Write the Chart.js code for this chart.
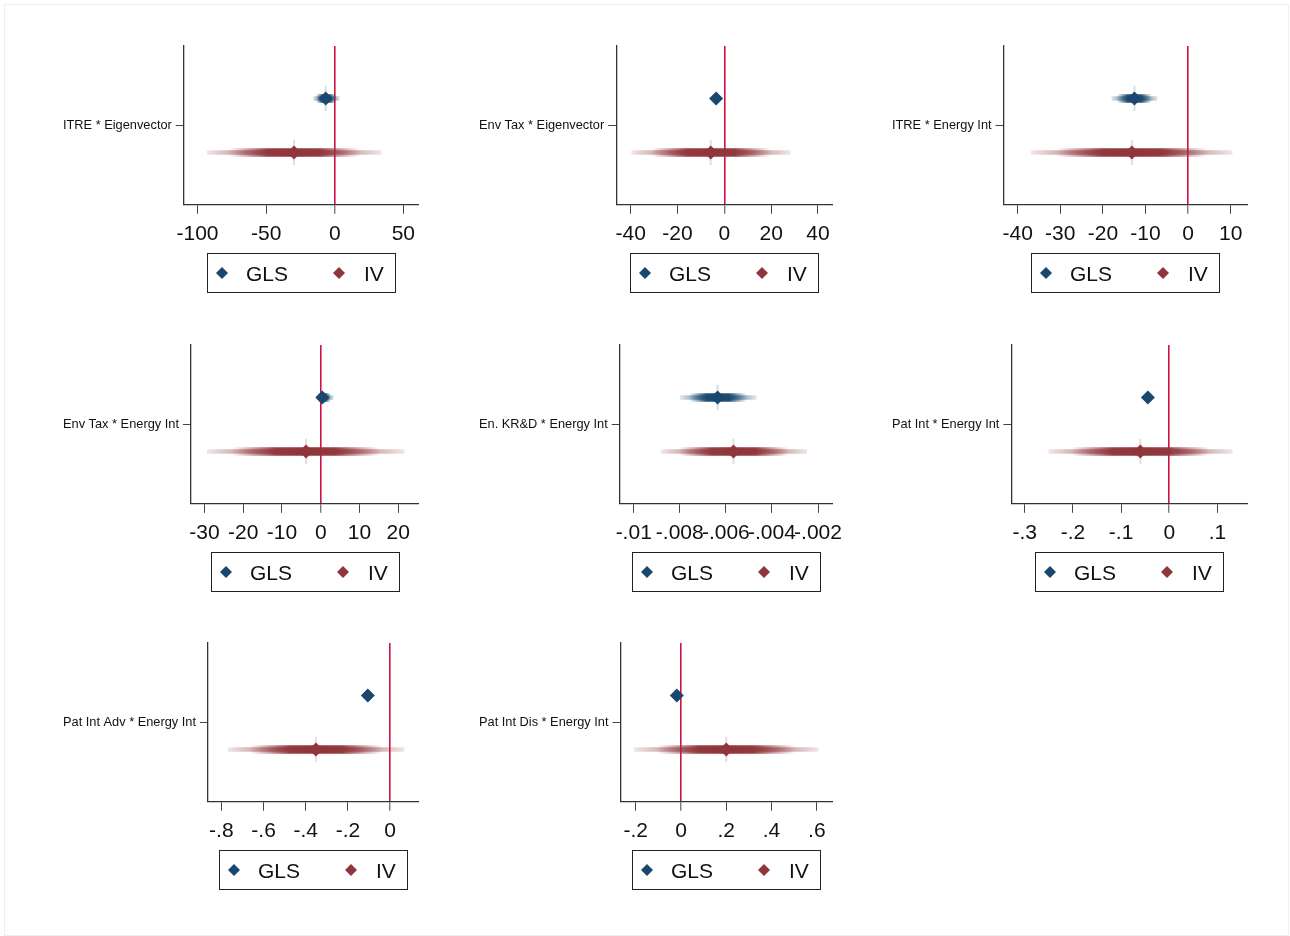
<!DOCTYPE html>
<html>
<head>
<meta charset="utf-8">
<script src="https://cdn.jsdelivr.net/npm/chart.js@4.4.1/dist/chart.umd.min.js"></script>
<style>
  body { margin: 0; background: #fff; }
  #page { position: relative; width: 1290px; height: 936px; background: #fff; overflow: hidden; }
  #frame { position: absolute; left: 4px; top: 4px; width: 1283px; height: 930px; border: 1px solid #efefef; }
  #page canvas { position: absolute; }
</style>
</head>
<body>
<div id="page"><div id="frame"></div></div>
<script>
// coefficient estimates (one entry per panel)
const panelLabels = ['ITRE * Eigenvector', 'Env Tax * Eigenvector', 'ITRE * Energy Int',
  'Env Tax * Energy Int', 'En. KR&D * Energy Int', 'Pat Int * Energy Int',
  'Pat Int Adv * Energy Int', 'Pat Int Dis * Energy Int'];
const seriesNames = ['GLS', 'IV'];

const glsCoef = [-6.6, -3.5, -12.6, 0.4, -0.00636, -0.0443, -0.106, -0.0183];
const glsLow  = [-15.8, -4.6, -18.0, -1.0, -0.00799, -0.049, -0.115, -0.026];
const glsHigh = [3.6, -2.4, -7.2, 3.3, -0.00467, -0.040, -0.097, -0.011];

const ivCoef = [-29.7, -5.8, -13.2, -3.8, -0.00567, -0.060, -0.352, 0.200];
const ivLow  = [-93.2, -39.7, -36.9, -29.4, -0.00882, -0.251, -0.770, -0.207];
const ivHigh = [34.1, 28.3, 10.4, 21.6, -0.00248, 0.1316, 0.068, 0.607];

const xTicks = [
  [-100, -50, 0, 50], [-40, -20, 0, 20, 40], [-40, -30, -20, -10, 0, 10],
  [-30, -20, -10, 0, 10, 20], [-0.01, -0.008, -0.006, -0.004, -0.002],
  [-0.3, -0.2, -0.1, 0, 0.1], [-0.8, -0.6, -0.4, -0.2, 0], [-0.2, 0, 0.2, 0.4, 0.6]];
const xTickLabels = [
  ['-100', '-50', '0', '50'], ['-40', '-20', '0', '20', '40'], ['-40', '-30', '-20', '-10', '0', '10'],
  ['-30', '-20', '-10', '0', '10', '20'], ['-.01', '-.008', '-.006', '-.004', '-.002'],
  ['-.3', '-.2', '-.1', '0', '.1'], ['-.8', '-.6', '-.4', '-.2', '0'], ['-.2', '0', '.2', '.4', '.6']];
const xRange = [[-110, 60.7], [-46.2, 46], [-43.3, 13.8], [-33.5, 25.1],
  [-0.010607, -0.001393], [-0.3277, 0.1615], [-0.8633, 0.132], [-0.2673, 0.667]];

// styling / layout
const FONT = "'Liberation Sans', Arial, sans-serif";
const NAVY = '26,71,111';
const MAROON = '144,53,59';
const ZERO_RED = '#cf1340';
const GLS_Y = 0.34, IV_Y = -0.34;
const colLeft = [52, 468, 881];
const colRight = [448, 862, 1277];
const rowTop = [30, 329, 627];
const CANVAS_H = 285;

function ciGradient(chart, lo, mid, hi, rgb, stops) {
  const xs = chart.scales.x;
  if (!xs || !chart.chartArea) return `rgba(${rgb},0.4)`;
  const a = xs.getPixelForValue(lo), b = xs.getPixelForValue(hi);
  if (!(b - a > 1)) return `rgb(${rgb})`;
  const g = chart.ctx.createLinearGradient(a, 0, b, 0);
  const f = (xs.getPixelForValue(mid) - a) / (b - a);
  stops(f).forEach(([p, al]) => g.addColorStop(Math.min(1, Math.max(0, p)), `rgba(${rgb},${al})`));
  return g;
}

const thinStops = f => [[0, 0.12], [f * 0.45, 0.55], [f, 1], [f + (1 - f) * 0.55, 0.55], [1, 0.12]];
const coreStops = f => [[0, 0], [f * 0.25, 0], [f * 0.7, 0.95], [f, 1],
  [f + (1 - f) * 0.3, 0.95], [f + (1 - f) * 0.75, 0], [1, 0]];

function panelDatasets(i) {
  const rows = [
    { name: seriesNames[0], coef: glsCoef[i], lo: glsLow[i], hi: glsHigh[i], y: GLS_Y, rgb: NAVY },
    { name: seriesNames[1], coef: ivCoef[i], lo: ivLow[i], hi: ivHigh[i], y: IV_Y, rgb: MAROON }
  ];
  const span = xRange[i][1] - xRange[i][0];
  const sets = [];
  rows.forEach(r => {
    sets.push({
      label: r.name + ' CI', order: 4, borderWidth: 4.5, borderCapStyle: 'butt', pointRadius: 0,
      data: [{ x: r.lo, y: r.y }, { x: r.hi, y: r.y }],
      borderColor: ctx => ciGradient(ctx.chart, r.lo, r.coef, r.hi, r.rgb, thinStops)
    });
    sets.push({
      label: r.name + ' CI core', order: 3, borderWidth: 8.5, borderCapStyle: 'butt', pointRadius: 0,
      data: [{ x: r.lo, y: r.y }, { x: r.hi, y: r.y }],
      borderColor: ctx => ciGradient(ctx.chart, r.lo, r.coef, r.hi, r.rgb, coreStops)
    });
    if ((r.hi - r.lo) / span > 0.1) {
      sets.push({
        label: r.name + ' spike', order: 2, borderWidth: 2, pointRadius: 0,
        borderColor: `rgba(${r.rgb},0.18)`,
        data: [{ x: r.coef, y: r.y - 0.16 }, { x: r.coef, y: r.y + 0.16 }]
      });
    }
    sets.push({
      label: r.name, order: 1, showLine: false, pointStyle: 'rectRot', pointRadius: 7,
      pointBorderWidth: 0, pointBackgroundColor: `rgb(${r.rgb})`,
      data: [{ x: r.coef, y: r.y }]
    });
  });
  return sets;
}

// framed legend under each panel, centred on the plot region
const boxLegend = {
  id: 'boxLegend',
  afterDraw(chart) {
    const { ctx, chartArea } = chart;
    const items = [{ text: seriesNames[0], rgb: NAVY }, { text: seriesNames[1], rgb: MAROON }];
    ctx.save();
    ctx.font = `21px ${FONT}`;
    const w = items.map(it => ctx.measureText(it.text).width);
    const total = 15 + 24 + w[0] + 51 + 25 + w[1] + 11;
    const left = Math.round((chartArea.left + chartArea.right) / 2 - total / 2);
    const top = Math.round(chartArea.bottom + 48.5);
    ctx.strokeStyle = '#222';
    ctx.lineWidth = 1;
    ctx.strokeRect(left + 0.5, top + 0.5, Math.round(total), 39);
    const diamond = (cx, cy, r, rgb) => {
      ctx.fillStyle = `rgb(${rgb})`;
      ctx.beginPath();
      ctx.moveTo(cx - r, cy); ctx.lineTo(cx, cy - r); ctx.lineTo(cx + r, cy); ctx.lineTo(cx, cy + r);
      ctx.closePath(); ctx.fill();
    };
    ctx.textBaseline = 'alphabetic';
    let x = left + 15;
    diamond(x, top + 20, 6, items[0].rgb);
    ctx.fillStyle = '#111';
    ctx.fillText(items[0].text, x + 24, top + 27.5);
    x = x + 24 + w[0] + 51;
    diamond(x, top + 20, 6, items[1].rgb);
    ctx.fillStyle = '#111';
    ctx.fillText(items[1].text, x + 25, top + 27.5);
    ctx.restore();
  }
};

const page = document.getElementById('page');
panelLabels.forEach((label, i) => {
  const r = Math.floor(i / 3), c = i % 3;
  const cv = document.createElement('canvas');
  cv.width = colRight[c] - colLeft[c];
  cv.height = CANVAS_H;
  cv.style.left = colLeft[c] + 'px';
  cv.style.top = rowTop[r] + 'px';
  page.appendChild(cv);

  new Chart(cv.getContext('2d'), {
    type: 'line',
    data: { datasets: panelDatasets(i) },
    options: {
      responsive: false,
      devicePixelRatio: 1,
      animation: false,
      layout: { padding: { left: 7, right: 30, top: 16, bottom: 60 } },
      plugins: { legend: { display: false }, tooltip: { enabled: false } },
      scales: {
        x: {
          type: 'linear', min: xRange[i][0], max: xRange[i][1], bounds: 'data',
          afterBuildTicks: s => { s.ticks = xTicks[i].map(v => ({ value: v })); },
          ticks: {
            autoSkip: false, maxRotation: 0, minRotation: 0, padding: 8,
            color: '#111', font: { family: FONT, size: 21 },
            callback: (v, idx) => xTickLabels[i][idx]
          },
          grid: {
            drawOnChartArea: true, drawTicks: true, tickLength: 9, tickColor: '#444', tickWidth: 1,
            color: ctx => (ctx.tick && ctx.tick.value === 0 ? ZERO_RED : 'rgba(0,0,0,0)'),
            lineWidth: ctx => (ctx.tick && ctx.tick.value === 0 ? 1.6 : 1)
          },
          border: { display: true, color: '#333', width: 1.3 }
        },
        y: {
          type: 'linear', min: -1, max: 1, bounds: 'data',
          afterBuildTicks: s => { s.ticks = [{ value: 0 }]; },
          ticks: {
            padding: 4, color: '#111', font: { family: FONT, size: 12.8 },
            callback: () => label
          },
          grid: { drawOnChartArea: false, drawTicks: true, tickLength: 8, tickColor: '#444', tickWidth: 1 },
          border: { display: true, color: '#333', width: 1.3 }
        }
      }
    },
    plugins: [boxLegend]
  });
});
</script>
</body>
</html>
